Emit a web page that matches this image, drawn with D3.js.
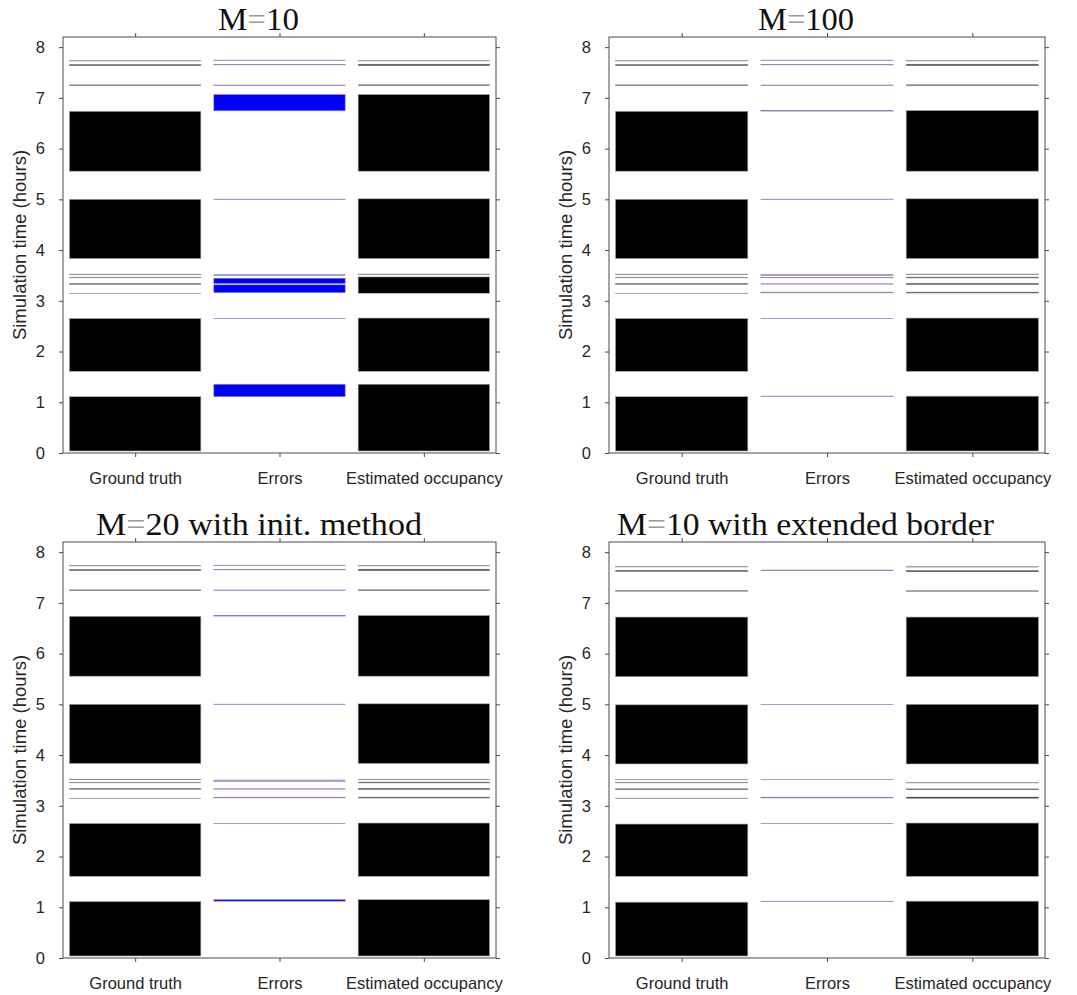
<!DOCTYPE html>
<html>
<head>
<meta charset="utf-8">
<script src="https://cdn.jsdelivr.net/npm/d3@7"></script>
<style>
  body { margin: 0; background: #fff; }
  text { font-family: "Liberation Sans", Arial, sans-serif; fill: #262626; }
  .title { font-family: "Liberation Serif", "Times New Roman", serif; fill: #111; }
</style>
</head>
<body>
<script>
'use strict';

// categories along the x axis
const categories = ["Ground truth", "Errors", "Estimated occupancy"];
const yTicks = [0, 1, 2, 3, 4, 5, 6, 7, 8];

// panel titles
const titles = ["M=10", "M=100", "M=20 with init. method", "M=10 with extended border"];

// occupancy intervals [start, end] in hours
const groundTruth = [
  [0.04, 1.11], [1.61, 2.65], [3.145, 3.150], [3.325, 3.343], [3.452, 3.466],
  [3.516, 3.526], [3.835, 5.0], [5.555, 6.735], [7.243, 7.257], [7.635, 7.66], [7.727, 7.735]
];
const groundTruthBorder = [
  [0.04, 1.1], [1.61, 2.64], [3.146, 3.152], [3.318, 3.336], [3.452, 3.466],
  [3.514, 3.522], [3.825, 4.99], [5.545, 6.72], [7.23, 7.244], [7.618, 7.642], [7.708, 7.716]
];

// errors per panel
const errorsM10 = [
  [1.11, 1.355], [2.648, 2.654], [3.16, 3.315], [3.34, 3.445], [3.497, 3.502], [3.517, 3.522],
  [4.998, 5.004], [6.745, 7.065], [7.248, 7.254], [7.65, 7.658], [7.738, 7.744]
];
const errorsM100 = [
  [1.116, 1.122], [2.648, 2.654], [3.156, 3.17], [3.329, 3.335], [3.454, 3.459],
  [3.497, 3.502], [3.517, 3.522], [4.998, 5.004], [6.74, 6.754], [7.248, 7.254],
  [7.65, 7.66], [7.738, 7.744]
];
const errorsM20 = [
  [1.12, 1.15], [2.648, 2.654], [3.156, 3.17], [3.329, 3.335], [3.477, 3.482],
  [3.504, 3.509], [4.998, 5.004], [6.74, 6.754], [7.248, 7.254], [7.65, 7.66], [7.738, 7.744]
];
const errorsBorder = [
  [1.114, 1.12], [2.648, 2.654], [3.155, 3.17], [3.517, 3.522], [4.994, 5.0], [7.638, 7.648]
];

// estimated occupancy per panel
const estM10 = [
  [0.04, 1.355], [1.61, 2.66], [3.15, 3.47], [3.514, 3.528], [3.835, 5.01], [5.555, 7.065],
  [7.242, 7.258], [7.634, 7.664], [7.727, 7.735]
];
const estM100 = [
  [0.04, 1.12], [1.61, 2.66], [3.153, 3.172], [3.32, 3.345], [3.45, 3.468], [3.514, 3.528],
  [3.835, 5.01], [5.555, 6.75], [7.242, 7.258], [7.634, 7.664], [7.727, 7.735]
];
const estM20 = [
  [0.04, 1.15], [1.61, 2.66], [3.153, 3.172], [3.32, 3.345], [3.45, 3.468], [3.515, 3.524],
  [3.835, 5.01], [5.555, 6.75], [7.242, 7.258], [7.634, 7.664], [7.727, 7.735]
];
const estBorder = [
  [0.04, 1.12], [1.61, 2.66], [3.148, 3.172], [3.318, 3.334], [3.45, 3.458],
  [3.825, 5.0], [5.545, 6.72], [7.228, 7.24], [7.613, 7.64], [7.706, 7.713]
];

const panelData = [
  [groundTruth, errorsM10, estM10],
  [groundTruth, errorsM100, estM100],
  [groundTruth, errorsM20, estM20],
  [groundTruthBorder, errorsBorder, estBorder]
];

// layout
const boxes = [
  { left: 63, top: 37, right: 496, bottom: 453, titleX: 258.5, titleY: 30, titleW: 81 },
  { left: 609, top: 37, right: 1045, bottom: 453, titleX: 806, titleY: 30, titleW: 96 },
  { left: 63, top: 542, right: 496, bottom: 958, titleX: 259, titleY: 535, titleW: 326 },
  { left: 609, top: 542, right: 1045, bottom: 958, titleX: 805.5, titleY: 535, titleW: 377 }
];
const fills = ["#000000", "#0000ff", "#000000"];
const edges = ["#a0a0a0", "#8e8eb0", "#a0a0a0"];

const svg = d3.select("body").append("svg")
  .attr("width", 1077)
  .attr("height", 995);

boxes.forEach(function(b, p) {
  const g = svg.append("g");

  const y = d3.scaleLinear().domain([0, 8.2]).range([b.bottom, b.top]);
  const x = d3.scaleLinear().domain([0.5, 3.5]).range([b.left, b.right]);
  const half = 0.455;

  // bars for every column
  panelData[p].forEach(function(intervals, c) {
    g.selectAll(".bar" + c)
      .data(intervals)
      .enter()
      .append("rect")
        .attr("x", x(c + 1 - half))
        .attr("width", x(c + 1 + half) - x(c + 1 - half))
        .attr("y", (d) => y(d[1]))
        .attr("height", (d) => y(d[0]) - y(d[1]))
        .attr("fill", fills[c])
        .attr("stroke", edges[c])
        .attr("stroke-width", 0.6);
  });

  // box
  g.append("rect")
    .attr("x", b.left)
    .attr("y", b.top)
    .attr("width", b.right - b.left)
    .attr("height", b.bottom - b.top)
    .attr("fill", "none")
    .attr("stroke", "#4a4a4a")
    .attr("stroke-width", 1);

  // axes
  const yAxis = d3.axisLeft(y).tickValues(yTicks).tickSize(4).tickPadding(14);
  g.append("g")
    .attr("transform", "translate(" + b.left + ",0)")
    .call(yAxis)
    .call((s) => s.select(".domain").remove())
    .call((s) => s.selectAll("text").style("font-size", "16.5px").attr("fill", "#262626"))
    .call((s) => s.selectAll("line").attr("stroke", "#4a4a4a"));

  g.append("g")
    .attr("transform", "translate(" + b.right + ",0)")
    .call(d3.axisRight(y).tickValues(yTicks).tickSize(4).tickFormat(""))
    .call((s) => s.select(".domain").remove())
    .call((s) => s.selectAll("line").attr("stroke", "#4a4a4a"));

  const xAxis = d3.axisBottom(x).tickValues([1, 2, 3]).tickSize(4).tickPadding(15)
    .tickFormat((d) => categories[d - 1]);
  g.append("g")
    .attr("transform", "translate(0," + b.bottom + ")")
    .call(xAxis)
    .call((s) => s.select(".domain").remove())
    .call((s) => s.selectAll("text").style("font-size", "16.5px").attr("fill", "#262626"))
    .call((s) => s.selectAll("line").attr("stroke", "#4a4a4a"));

  g.append("g")
    .attr("transform", "translate(0," + b.top + ")")
    .call(d3.axisTop(x).tickValues([1, 2, 3]).tickSize(4).tickFormat(""))
    .call((s) => s.select(".domain").remove())
    .call((s) => s.selectAll("line").attr("stroke", "#4a4a4a"));

  // y label
  g.append("text")
    .attr("transform", "translate(" + (b.left - 37) + "," + ((b.top + b.bottom) / 2) + ")rotate(-90)")
    .attr("text-anchor", "middle")
    .style("font-size", "18.5px")
    .text("Simulation time (hours)");

  // title, "=" drawn in grey
  const parts = titles[p].split("=");
  const t = g.append("text")
    .attr("class", "title")
    .attr("x", b.titleX)
    .attr("y", b.titleY)
    .attr("text-anchor", "middle")
    .attr("textLength", b.titleW)
    .attr("lengthAdjust", "spacingAndGlyphs")
    .style("font-size", "31px");
  t.append("tspan").text(parts[0]);
  t.append("tspan").attr("fill", "#9a9a9a").text("=");
  t.append("tspan").text(parts[1]);
});
</script>
</body>
</html>
